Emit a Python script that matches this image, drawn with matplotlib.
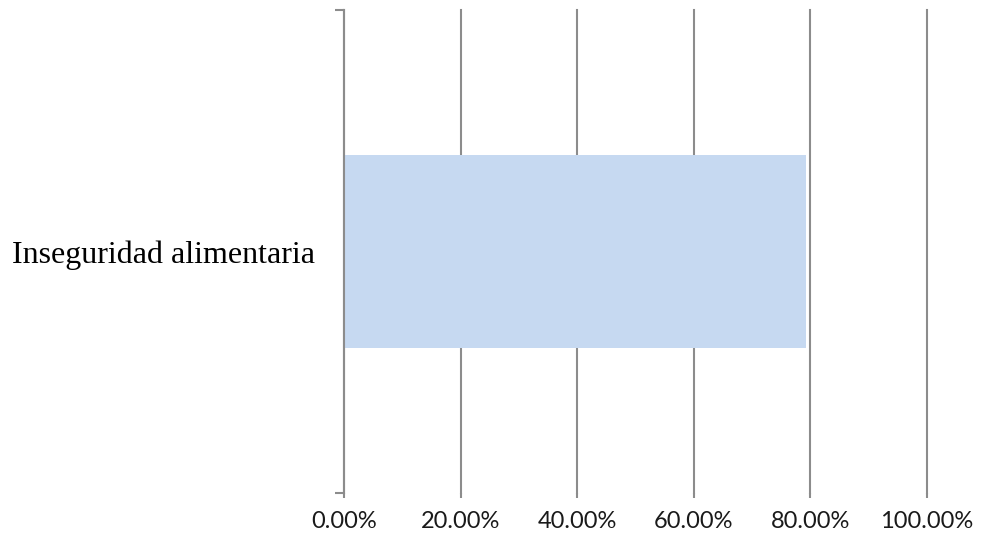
import matplotlib
import matplotlib.pyplot as plt
from matplotlib.ticker import PercentFormatter

matplotlib.use('agg')

categories = ["Inseguridad alimentaria"]
values = [79.2]
x_ticks = [0, 20, 40, 60, 80, 100]

grey = '#8c8c8c'

fig = plt.figure(figsize=(9.83, 5.44), dpi=100)
ax = fig.add_axes([344 / 983, 1 - 493 / 544, (927 - 344) / 983, (493 - 10) / 544])

ax.barh(range(len(categories)), values, height=0.4, color='#c6d9f1', zorder=3)

ax.set_xlim(0, 100)
ax.set_ylim(-0.5, len(categories) - 0.5)
ax.set_xticks(x_ticks)
ax.xaxis.set_major_formatter(PercentFormatter(decimals=2))
ax.grid(axis='x', color=grey, linewidth=1.5, zorder=0)
for line in ax.get_xgridlines():
    line.set_clip_on(False)

ax.set_yticks(range(len(categories)))
ax.set_yticklabels(categories, family='Liberation Serif', fontsize=23)
ax.set_yticks([-0.5, len(categories) - 0.5], minor=True)
ax.tick_params(axis='y', which='major', length=0, pad=21)
ax.tick_params(axis='y', which='minor', length=6.5, width=1.5, color=grey)
ax.tick_params(axis='x', length=3.6, width=1.5, color=grey, pad=9)
for lab in ax.get_xticklabels():
    lab.set_family('Lato')
    lab.set_fontsize(17)
    lab.set_color('#1a1a1a')

for side in ['top', 'right', 'bottom']:
    ax.spines[side].set_visible(False)
ax.spines['left'].set_color(grey)
ax.spines['left'].set_linewidth(1.5)
ax.spines['left'].set_zorder(4)

fig.savefig('out.png', dpi=100)
plt.close()
